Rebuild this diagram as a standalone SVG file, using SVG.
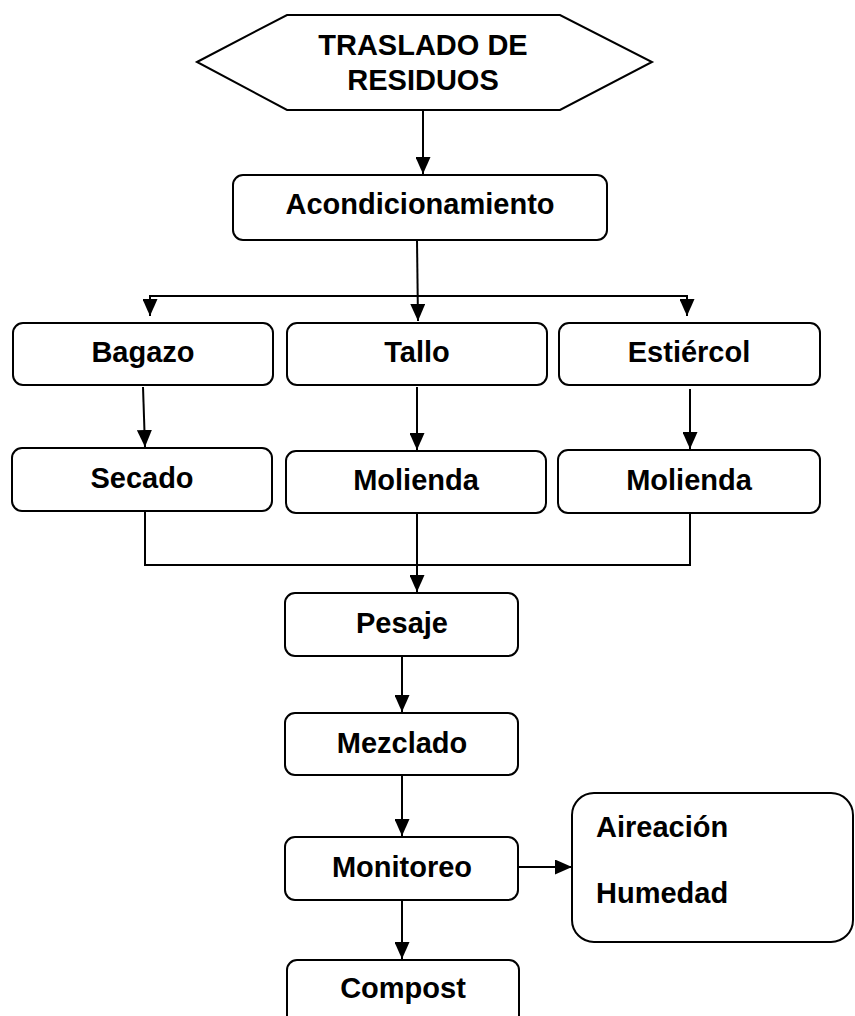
<svg xmlns="http://www.w3.org/2000/svg" width="855" height="1016" viewBox="0 0 855 1016">
<style>
.box{fill:#fff;stroke:#000;stroke-width:2}
.t{font-family:"Liberation Sans",Arial,sans-serif;font-weight:bold;font-size:29px;fill:#000;text-anchor:middle}
.tl{font-family:"Liberation Sans",Arial,sans-serif;font-weight:bold;font-size:29px;fill:#000}
.c{fill:none;stroke:#000;stroke-width:2}
</style>
<defs>
<marker id="ah" markerUnits="userSpaceOnUse" markerWidth="17" markerHeight="15" viewBox="0 0 17 15" refX="17" refY="7.5" orient="auto">
<path d="M0,0 L17,7.5 L0,15 Z" fill="#000"/>
</marker>
</defs>
<rect width="855" height="1016" fill="#fff"/>
<g id="connectors">
<line class="c" x1="423" y1="110" x2="423" y2="174" marker-end="url(#ah)"/>
<line class="c" x1="417" y1="240" x2="418" y2="321" marker-end="url(#ah)"/>
<polyline class="c" points="150,316 150,296 687,296 687,316" marker-end="url(#ah)"/>
<path class="c" d="M150,296 L150,316" marker-end="url(#ah)"/>
<line class="c" x1="143" y1="387" x2="145" y2="447" marker-end="url(#ah)"/>
<line class="c" x1="417" y1="387" x2="417" y2="450" marker-end="url(#ah)"/>
<line class="c" x1="690" y1="389" x2="690" y2="449" marker-end="url(#ah)"/>
<polyline class="c" points="145,511 145,565 690,565 690,513"/>
<line class="c" x1="417" y1="513" x2="417" y2="592" marker-end="url(#ah)"/>
<line class="c" x1="402" y1="652" x2="402" y2="712" marker-end="url(#ah)"/>
<line class="c" x1="402" y1="775" x2="402" y2="836" marker-end="url(#ah)"/>
<line class="c" x1="402" y1="900" x2="402" y2="959" marker-end="url(#ah)"/>
<line class="c" x1="518" y1="867" x2="572" y2="867" marker-end="url(#ah)"/>
</g>
<g id="n-traslado">
<polygon class="box" points="197,62 287,15 560,15 652,62 560,110 287,110"/>
<text class="t" x="423" y="55">TRASLADO DE</text>
<text class="t" x="423" y="90">RESIDUOS</text>
</g>
<g id="n-acond">
<rect class="box" x="233" y="175" width="374" height="65" rx="10"/>
<text class="t" x="420" y="214">Acondicionamiento</text>
</g>
<g id="n-bagazo">
<rect class="box" x="13" y="323" width="260" height="62" rx="10"/>
<text class="t" x="143" y="362">Bagazo</text>
</g>
<g id="n-tallo">
<rect class="box" x="287" y="323" width="260" height="62" rx="10"/>
<text class="t" x="417" y="362">Tallo</text>
</g>
<g id="n-estiercol">
<rect class="box" x="559" y="323" width="261" height="62" rx="10"/>
<text class="t" x="689" y="362">Estiércol</text>
</g>
<g id="n-secado">
<rect class="box" x="12" y="448" width="260" height="63" rx="10"/>
<text class="t" x="142" y="488">Secado</text>
</g>
<g id="n-molienda1">
<rect class="box" x="286" y="451" width="260" height="62" rx="10"/>
<text class="t" x="416" y="490">Molienda</text>
</g>
<g id="n-molienda2">
<rect class="box" x="558" y="450" width="262" height="63" rx="10"/>
<text class="t" x="689" y="490">Molienda</text>
</g>
<g id="n-pesaje">
<rect class="box" x="285" y="593" width="233" height="63" rx="10"/>
<text class="t" x="402" y="633">Pesaje</text>
</g>
<g id="n-mezclado">
<rect class="box" x="285" y="713" width="233" height="62" rx="10"/>
<text class="t" x="402" y="753">Mezclado</text>
</g>
<g id="n-monitoreo">
<rect class="box" x="285" y="837" width="233" height="63" rx="10"/>
<text class="t" x="402" y="877">Monitoreo</text>
</g>
<g id="n-compost">
<rect class="box" x="287" y="960" width="232" height="80" rx="10"/>
<text class="t" x="403" y="998">Compost</text>
</g>
<g id="n-aireacion">
<rect class="box" x="572" y="793" width="281" height="149" rx="22"/>
<text class="tl" x="596" y="837">Aireación</text>
<text class="tl" x="596" y="903">Humedad</text>
</g>
</svg>
